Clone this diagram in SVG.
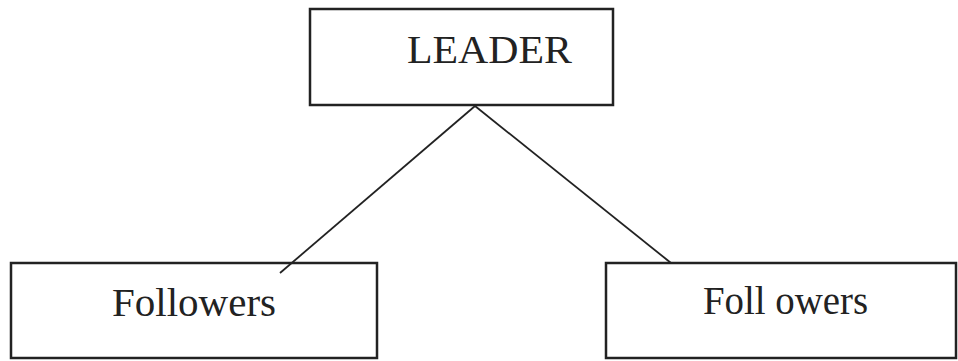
<svg xmlns="http://www.w3.org/2000/svg" width="958" height="361" viewBox="0 0 958 361">
<style>
.box{fill:#fff;stroke:#222;stroke-width:2.5}
.lbl{font-family:"Liberation Serif","Times New Roman",serif;font-size:40px;fill:#222}
.con{stroke:#222;stroke-width:1.8;fill:none}
</style>
<rect width="958" height="361" fill="#fff"/>
<g id="leader"><rect class="box" x="310" y="9" width="303" height="96"/><text class="lbl" x="407" y="63" textLength="165" lengthAdjust="spacingAndGlyphs">LEADER</text></g>
<g id="followers-left"><rect class="box" x="11" y="263" width="366" height="95"/><text class="lbl" x="112" y="316" textLength="164" lengthAdjust="spacingAndGlyphs">Followers</text></g>
<g id="followers-right"><rect class="box" x="606" y="263" width="350" height="95"/><text class="lbl" x="703" y="314" textLength="165" lengthAdjust="spacingAndGlyphs">Foll owers</text></g>
<g id="connectors"><line class="con" x1="475" y1="106" x2="280" y2="273"/><line class="con" x1="475" y1="106" x2="671" y2="263"/></g>
</svg>
